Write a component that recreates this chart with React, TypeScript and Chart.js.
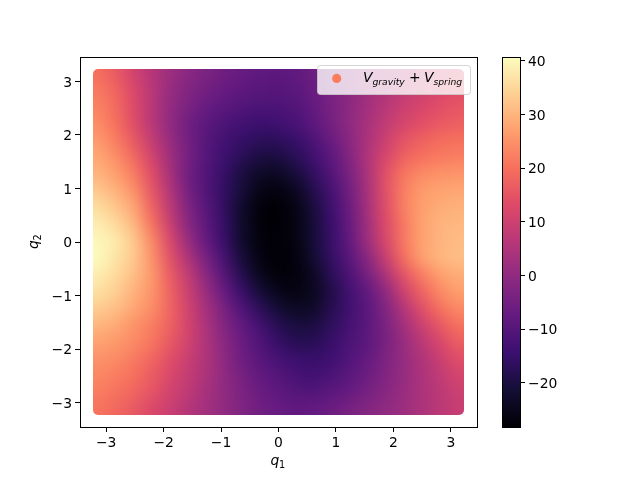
import React, { useEffect, useRef } from "react";
import { Chart, registerables } from "chart.js";

Chart.register(...registerables);

const q1Values = [-3.14, -2.83, -2.51, -2.2, -1.88, -1.57, -1.26, -0.94, -0.63, -0.31, 0, 0.31, 0.63, 0.94, 1.26, 1.57, 1.88, 2.2, 2.51, 2.83, 3.14];
const q2Values = [3.14, 2.83, 2.51, 2.2, 1.88, 1.57, 1.26, 0.94, 0.63, 0.31, 0, -0.31, -0.63, -0.94, -1.26, -1.57, -1.88, -2.2, -2.51, -2.83, -3.14];

const potential = [
  [20, 16, 11, 6, 2, -1, -3.5, -5.5, -7, -8, -8.5, -8, -6, -3, 0, 2.5, 4.5, 6.5, 8.5, 10.5, 12],
  [21.5, 18, 12.5, 6.5, 1, -2.5, -5, -7, -8.5, -9.5, -10, -9, -6.5, -3.5, -0.5, 2.5, 5, 8, 10, 12, 13.5],
  [23, 19, 13, 6.5, 0.5, -3.5, -7, -9, -10.5, -11.5, -11.5, -10.5, -7.5, -4, -0.5, 3, 6.5, 10, 12, 14, 15.5],
  [24.5, 20, 13.5, 6.5, 0, -5.5, -9, -11.5, -13, -14.4, -13.5, -12, -8.5, -4.5, 0, 4, 8, 11.5, 14, 16, 17],
  [26.5, 22, 16, 8.5, 1, -5, -9.5, -13, -15.5, -17, -17, -15, -11.5, -6.5, -1, 4.5, 10, 15, 17.5, 19.5, 20],
  [28.5, 24.5, 19, 11, 2.5, -4.5, -10, -14, -17.5, -20, -20, -17.5, -13.5, -8.5, -2, 5.5, 12, 17.5, 20, 21.5, 22],
  [30, 27, 22, 13.5, 3.5, -5.5, -10.5, -15.5, -20, -23.5, -24, -21, -16, -10, -3.5, 4.5, 14.5, 21, 24, 25, 25.5],
  [33, 29.5, 25, 15.5, 5.5, -4.5, -10.5, -16, -21, -26, -27, -24.5, -18.5, -12.5, -5, 4, 14.5, 22.5, 26.5, 27.5, 28],
  [36, 32.5, 28, 17.5, 7.5, -3, -9.5, -16, -23, -27.5, -28, -26, -20.5, -13.5, -6, 3.5, 14, 22.5, 27, 29, 29.5],
  [38.5, 35.5, 30.5, 20.5, 9.5, -1, -8.5, -15.5, -23, -27.5, -28, -26.5, -21, -14.5, -7, 3, 13, 21.5, 27.5, 30, 30.5],
  [40, 38, 33, 24, 12.5, 1.5, -7.5, -15, -23, -27, -28, -26.5, -21, -15, -7.5, 2.5, 12.5, 21.5, 27.5, 30, 31],
  [40.5, 37, 33, 25, 14.5, 5, -4, -12.5, -21, -26.5, -28, -27, -22, -15.5, -9, -1, 9.5, 20, 27.5, 30.5, 31.5],
  [38.5, 35.5, 31.5, 26, 16.5, 8.5, -1, -10, -18.5, -25, -27.5, -27, -24, -17, -11, -4.5, 5, 15, 22, 27, 29],
  [36.5, 34, 29.5, 25.5, 17.5, 10, 1.5, -7, -15, -21.5, -25.5, -26.5, -24.5, -19, -13, -8, 0, 10.5, 18, 24, 27],
  [33.5, 31.5, 28, 24.5, 18, 11, 3.5, -4, -11, -17, -21.5, -24, -23.5, -18, -13, -9, -2.5, 6, 14, 20.5, 24],
  [30.5, 28.5, 25, 22, 17.5, 11.5, 4.5, -2.5, -8, -13, -18, -20.5, -20, -16.5, -12.5, -9, -3.5, 3, 10, 16, 20.5],
  [27.5, 26, 24, 21, 16, 11, 5, -1, -6.5, -11, -15.5, -18, -18, -15, -11.5, -9, -4, 1.5, 7, 12.5, 17],
  [25, 24, 21.5, 18, 14, 9.5, 5, -0.5, -6, -9.5, -12.5, -14.5, -15, -14, -10.5, -7.5, -3, 1, 5, 9.5, 14],
  [23.5, 22, 20, 16.5, 12.5, 8.5, 4.5, 0, -4.5, -8, -10, -12.5, -13.5, -11.5, -9, -6, -2.5, 1, 4.5, 8, 11.5],
  [22, 20.5, 18, 15, 11, 7.5, 3.5, 0, -3.5, -6.5, -8.5, -10, -10.5, -9, -7, -4.5, -1.5, 1.5, 4.5, 7, 10],
  [20.5, 18.5, 16, 12.5, 9.5, 6, 3, 0, -3, -5.5, -7, -8, -7.5, -6, -4, -2, 0, 2, 4.5, 7, 9],
];

const axisTicks = [-3, -2, -1, 0, 1, 2, 3];
const colorbarTicks = [-20, -10, 0, 10, 20, 30, 40];
const colorMin = -28.2;
const colorMax = 40.7;
const axisLimit = 3.456;
const magma = [
  [0, 0, 4], [20, 14, 54], [59, 15, 112], [100, 26, 128], [140, 41, 129], [183, 55, 121],
  [222, 73, 104], [247, 112, 92], [254, 159, 109], [254, 207, 146], [252, 253, 191],
];

const FONT = "'DejaVu Sans'";
const FS = 13.9;

function magmaColor(v: number) {
  const t = Math.max(0, Math.min(1, (v - colorMin) / (colorMax - colorMin))) * (magma.length - 1);
  const i = Math.min(magma.length - 2, Math.floor(t));
  const f = t - i;
  const c = magma[i].map((a, k) => Math.round(a + (magma[i + 1][k] - a) * f));
  return `rgb(${c[0]},${c[1]},${c[2]})`;
}

const minusLabel = (v: any) => String(v).replace("-", "\u2212");

const framePlugin = {
  id: "frame",
  afterDraw(chart: any) {
    const { ctx, chartArea: a } = chart;
    ctx.save();
    ctx.strokeStyle = "#000";
    ctx.lineWidth = 1;
    ctx.strokeRect(a.left + 0.5, a.top + 0.5, a.right - a.left, a.bottom - a.top);
    ctx.restore();
  },
};

// The points are square cells; this softens their edges the way the dense original scatter looks.
const softCellsPlugin = {
  id: "softCells",
  afterDatasetsDraw(chart: any) {
    const { ctx, scales, canvas } = chart;
    const pad = 5;
    const x0 = Math.round(scales.x.getPixelForValue(q1Values[0])) - pad;
    const x1 = Math.round(scales.x.getPixelForValue(q1Values[q1Values.length - 1])) + pad;
    const y0 = Math.round(scales.y.getPixelForValue(q2Values[0])) - pad;
    const y1 = Math.round(scales.y.getPixelForValue(q2Values[q2Values.length - 1])) + pad;
    const w = x1 - x0;
    const h = y1 - y0;
    const m = 40;
    const tmp = document.createElement("canvas");
    tmp.width = w + 2 * m;
    tmp.height = h + 2 * m;
    const t = tmp.getContext("2d")!;
    t.imageSmoothingEnabled = false;
    t.drawImage(canvas, x0, y0, w, h, m, m, w, h);
    t.drawImage(canvas, x0, y0, 1, h, 0, m, m, h);
    t.drawImage(canvas, x1 - 1, y0, 1, h, m + w, m, m, h);
    t.drawImage(tmp, 0, m, w + 2 * m, 1, 0, 0, w + 2 * m, m);
    t.drawImage(tmp, 0, m + h - 1, w + 2 * m, 1, 0, m + h, w + 2 * m, m);
    ctx.save();
    ctx.clearRect(x0 - 12, y0 - 12, w + 24, h + 24);
    ctx.beginPath();
    ctx.roundRect(x0, y0, w, h, 5);
    ctx.clip();
    (ctx as any).filter = "blur(8px)";
    ctx.drawImage(tmp, x0 - m, y0 - m);
    ctx.restore();
  },
};

const textPlugin = {
  id: "mathText",
  afterDraw(chart: any) {
    const { ctx } = chart;
    const big = `italic ${FS}px ${FONT}`;
    const small = `italic 9.2px ${FONT}`;
    const sub = `9.7px ${FONT}`;
    ctx.save();
    ctx.textBaseline = "alphabetic";
    ctx.textAlign = "left";
    ctx.fillStyle = "#000";
    ctx.font = big;
    ctx.fillText("q", 270.5, 465);
    ctx.font = sub;
    ctx.fillText("1", 279, 467.5);
    ctx.save();
    ctx.translate(38, 249);
    ctx.rotate(-Math.PI / 2);
    ctx.font = big;
    ctx.fillText("q", 0, 0);
    ctx.font = sub;
    ctx.fillText("2", 8.5, 2.5);
    ctx.restore();

    ctx.beginPath();
    ctx.roundRect(317.5, 65.5, 153, 29, 3);
    ctx.fillStyle = "rgba(255,255,255,0.8)";
    ctx.fill();
    ctx.strokeStyle = "rgba(204,204,204,0.8)";
    ctx.lineWidth = 1;
    ctx.stroke();
    ctx.beginPath();
    ctx.arc(336.7, 78.4, 4.6, 0, Math.PI * 2);
    ctx.fillStyle = "#fc7d5e";
    ctx.fill();
    ctx.fillStyle = "#000";
    ctx.font = big;
    ctx.fillText("V", 363, 82);
    ctx.font = small;
    ctx.fillText("gravity", 372.5, 84.5);
    ctx.font = `${FS}px ${FONT}`;
    ctx.fillText("+", 409, 82);
    ctx.font = big;
    ctx.fillText("V", 424, 82);
    ctx.font = small;
    ctx.fillText("spring", 433.5, 84.5);
    ctx.restore();
  },
};

export default function App() {
  const mainRef = useRef<HTMLCanvasElement>(null);
  const barRef = useRef<HTMLCanvasElement>(null);

  useEffect(() => {
    const points: { x: number; y: number }[] = [];
    const colors: string[] = [];
    q2Values.forEach((q2, r) =>
      q1Values.forEach((q1, c) => {
        points.push({ x: q1, y: q2 });
        colors.push(magmaColor(potential[r][c]));
      })
    );

    const axisFont = { family: FONT, size: FS };
    const tickSet = (scale: any) => {
      scale.ticks = axisTicks.map((value) => ({ value }));
    };

    const main = new Chart(mainRef.current!, {
      type: "scatter",
      data: {
        datasets: [
          {
            label: "V_gravity + V_spring",
            data: points,
            pointStyle: "rect",
            pointRadius: 13.5,
            pointBorderWidth: 0,
            pointBackgroundColor: colors,
            clip: false as any,
          },
        ],
      },
      options: {
        animation: false,
        responsive: false,
        layout: { padding: { left: 0, top: 57, right: 163, bottom: 0 } },
        plugins: { legend: { display: false }, tooltip: { enabled: false } },
        scales: {
          x: {
            type: "linear",
            min: -axisLimit,
            max: axisLimit,
            afterBuildTicks: tickSet,
            afterFit: (s: any) => { s.height = 53; },
            grid: { drawOnChartArea: false, tickLength: 5, tickColor: "#000", tickWidth: 1 },
            border: { display: false },
            ticks: { color: "#000", font: axisFont, padding: 3, maxRotation: 0, callback: minusLabel },
          },
          y: {
            type: "linear",
            min: -axisLimit,
            max: axisLimit,
            afterBuildTicks: tickSet,
            afterFit: (s: any) => { s.width = 80; },
            grid: { drawOnChartArea: false, tickLength: 5, tickColor: "#000", tickWidth: 1 },
            border: { display: false },
            ticks: { color: "#000", font: axisFont, padding: 3, labelOffset: 1.5, callback: minusLabel },
          },
        },
      },
      plugins: [softCellsPlugin, framePlugin, textPlugin],
    } as any);

    const bar = new Chart(barRef.current!, {
      type: "bar",
      data: {
        labels: ["V"],
        datasets: [
          {
            data: [[colorMin, colorMax]],
            barPercentage: 1,
            categoryPercentage: 1,
            borderWidth: 0,
            backgroundColor: (c: any) => {
              const a = c.chart.chartArea;
              if (!a) return "#000";
              const g = c.chart.ctx.createLinearGradient(0, a.bottom, 0, a.top);
              magma.forEach((s, i) => g.addColorStop(i / (magma.length - 1), `rgb(${s[0]},${s[1]},${s[2]})`));
              return g;
            },
          },
        ],
      },
      options: {
        animation: false,
        responsive: false,
        layout: { padding: { left: 502, top: 57, right: 0, bottom: 53 } },
        plugins: { legend: { display: false }, tooltip: { enabled: false } },
        scales: {
          x: { display: false },
          y: {
            position: "right",
            min: colorMin,
            max: colorMax,
            afterBuildTicks: (s: any) => { s.ticks = colorbarTicks.map((value) => ({ value })); },
            afterFit: (s: any) => { s.width = 120; },
            grid: { drawOnChartArea: false, tickLength: 5, tickColor: "#000", tickWidth: 1 },
            border: { display: false },
            ticks: { color: "#000", font: axisFont, padding: 3, labelOffset: 1.5, callback: minusLabel },
          },
        },
      },
      plugins: [framePlugin],
    } as any);

    return () => {
      main.destroy();
      bar.destroy();
    };
  }, []);

  const style: React.CSSProperties = { position: "absolute", left: 0, top: 0, width: 640, height: 480 };
  return (
    <div style={{ position: "fixed", left: 0, top: 0, width: 640, height: 480, background: "#fff" }}>
      <canvas ref={mainRef} width={640} height={480} style={style} />
      <canvas ref={barRef} width={640} height={480} style={style} />
    </div>
  );
}
